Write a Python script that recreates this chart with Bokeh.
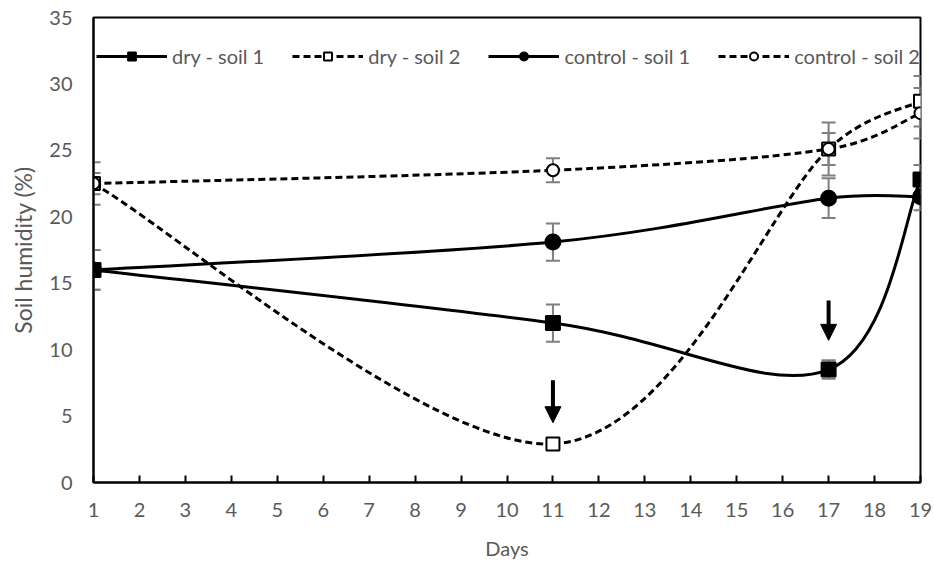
import math
from bokeh.plotting import figure
from bokeh.models import (ColumnDataSource, Whisker, TeeHead, Arrow, NormalHead,
                          Legend, LegendItem, FixedTicker, Range1d)
from bokeh.embed import file_html
from bokeh.resources import INLINE

# ---- data ----
days = [1, 11, 17, 19]
dry_soil1 = [16.0, 12.0, 8.5, 22.8]
dry_soil1_err = [1.5, 1.4, 0.7, 1.1]
dry_soil2 = [22.5, 2.9, 25.1, 28.7]
dry_soil2_err = [1.6, 0.3, 2.0, 1.9]
control_soil1 = [16.0, 18.1, 21.4, 21.5]
control_soil1_err = [1.5, 1.4, 1.5, 1.0]
control_soil2 = [22.5, 23.5, 25.1, 27.8]
control_soil2_err = [0.8, 0.9, 1.2, 1.9]
x_ticks = list(range(1, 20))
y_ticks = [0, 5, 10, 15, 20, 25, 30, 35]
arrow_days = [11, 17]
arrow_top = [7.7, 13.7]
arrow_tip = [4.5, 10.7]

FONT = "Lato"
GREY = "#595959"
W, H = 934, 567
BL, BR, BT, BB = 93, 14, 17, 85
X0, X1, Y0, Y1 = 1, 19, 0, 35

p = figure(width=W, height=H, output_backend="svg", toolbar_location=None,
           x_range=Range1d(X0, X1), y_range=Range1d(Y0, Y1),
           min_border_left=BL, min_border_right=BR, min_border_top=BT,
           min_border_bottom=BB)
p.xgrid.visible = False
p.ygrid.visible = False
p.outline_line_color = "black"
p.outline_line_width = 2

for ax in (p.xaxis[0], p.yaxis[0]):
    ax.axis_line_color = "black"
    ax.axis_line_width = 2
    ax.minor_tick_line_color = None
    ax.major_label_text_font = FONT
    ax.major_label_text_font_size = "20px"
    ax.major_label_text_color = GREY
    ax.axis_label_text_font = FONT
    ax.axis_label_text_color = GREY
    ax.axis_label_text_font_style = "normal"

p.xaxis.ticker = FixedTicker(ticks=x_ticks)
p.xaxis.major_tick_in = 7
p.xaxis.major_tick_out = 0
p.xaxis.major_tick_line_width = 2
p.xaxis.major_label_standoff = 20
p.xaxis.axis_label = "Days"
p.xaxis.axis_label_text_font_size = "20px"
p.xaxis.axis_label_standoff = 16

p.yaxis.ticker = FixedTicker(ticks=y_ticks)
p.yaxis.major_tick_line_color = None
p.yaxis.major_tick_in = 0
p.yaxis.major_tick_out = 0
p.yaxis.major_label_standoff = 21
p.yaxis.axis_label = "Soil humidity (%)"
p.yaxis.axis_label_text_font_size = "23px"
p.yaxis.axis_label_standoff = 9

# pixel scale (for spreadsheet-like smoothing, done in screen space)
SX = (W - BL - BR) / (X1 - X0)
SY = (H - BT - BB) / (Y1 - Y0)


def dist(a, b):
    return math.hypot((b[0] - a[0]) * SX, (b[1] - a[1]) * SY)


def smooth(xs, ys):
    pts = list(zip(xs, ys))
    n = len(pts)
    out = {k: [] for k in ("x0", "y0", "x1", "y1", "cx0", "cy0", "cx1", "cy1")}
    for i in range(n - 1):
        p0 = pts[max(i - 1, 0)]
        p1 = pts[i]
        p2 = pts[i + 1]
        p3 = pts[min(i + 2, n - 1)]
        d02, d13, d12 = dist(p0, p2), dist(p1, p3), dist(p1, p2)
        f0 = 1 / 6 if d02 / 6 < d12 / 2 else d12 / (2 * d02)
        f1 = 1 / 6 if d13 / 6 < d12 / 2 else d12 / (2 * d13)
        out["x0"].append(p1[0]); out["y0"].append(p1[1])
        out["x1"].append(p2[0]); out["y1"].append(p2[1])
        out["cx0"].append(p1[0] + f0 * (p2[0] - p0[0]))
        out["cy0"].append(p1[1] + f0 * (p2[1] - p0[1]))
        out["cx1"].append(p2[0] - f1 * (p3[0] - p1[0]))
        out["cy1"].append(p2[1] - f1 * (p3[1] - p1[1]))
    return out


series = [
    ("dry - soil 1", dry_soil1, dry_soil1_err, "solid", "square", "black"),
    ("dry - soil 2", dry_soil2, dry_soil2_err, "7 4", "square", "white"),
    ("control - soil 1", control_soil1, control_soil1_err, "solid", "circle", "black"),
    ("control - soil 2", control_soil2, control_soil2_err, "7 4", "circle", "white"),
]

# error bars (behind the lines)
for name, ys, errs, dash, marker, fill in series:
    src = ColumnDataSource(dict(x=days, lower=[y - e for y, e in zip(ys, errs)],
                                upper=[y + e for y, e in zip(ys, errs)]))
    w = Whisker(source=src, base="x", lower="lower", upper="upper",
                line_color="#7f7f7f", line_width=2,
                upper_head=TeeHead(size=14, line_color="#7f7f7f", line_width=2),
                lower_head=TeeHead(size=14, line_color="#7f7f7f", line_width=2))
    p.add_layout(w)

items = []
for name, ys, errs, dash, marker, fill in series:
    b = p.bezier(x0="x0", y0="y0", x1="x1", y1="y1", cx0="cx0", cy0="cy0",
                 cx1="cx1", cy1="cy1", source=ColumnDataSource(smooth(days, ys)),
                 line_color="black", line_width=3, line_dash=dash)
    size = 14 if marker == "square" else 15
    if fill == "white":
        size = 13 if marker == "square" else 12
    s = p.scatter(days, ys, marker=marker, size=size, fill_color=fill,
                  line_color="black", line_width=2)
    items.append(LegendItem(label=name, renderers=[b, s]))

legend = Legend(items=items, orientation="horizontal", location=(3, 414),
                background_fill_alpha=0, border_line_color=None,
                label_text_font=FONT, label_text_font_size="20px",
                label_text_color=GREY, glyph_width=71, glyph_height=20,
                label_height=20, spacing=28, margin=0, padding=6,
                label_standoff=5)
p.add_layout(legend)

for xd, yt, yb in zip(arrow_days, arrow_top, arrow_tip):
    p.add_layout(Arrow(x_start=xd, y_start=yt, x_end=xd, y_end=yb,
                       line_color="black", line_width=4,
                       end=NormalHead(size=16, fill_color="black",
                                      line_color="black", line_width=1)))

open("out.html", "w").write(file_html(p, INLINE))
